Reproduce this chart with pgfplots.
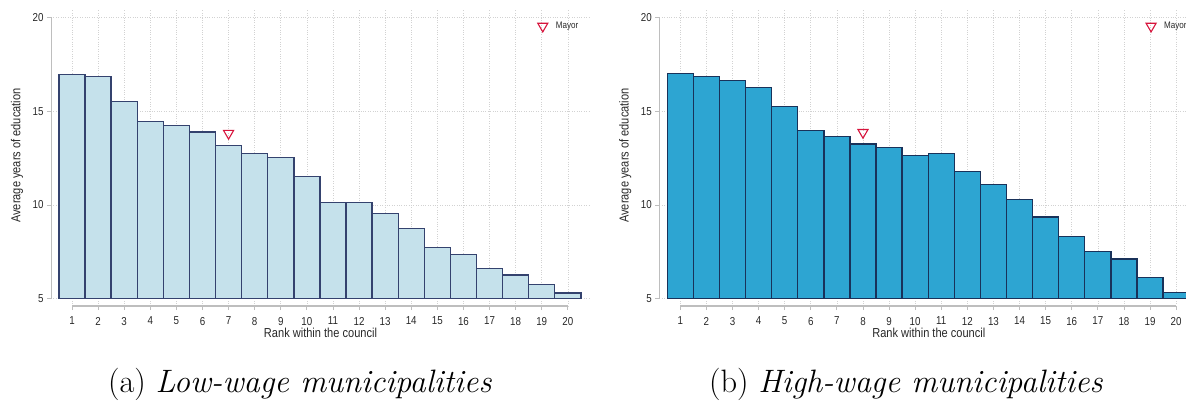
\documentclass[border=0pt]{standalone}
\usepackage{pgfplots}
\pgfplotsset{compat=1.18}
\usepackage{pgfplotstable}
\usepackage{fontspec}
\newfontfamily\chartfont[FakeStretch=0.85]{Liberation Sans}
\definecolor{lowfill}{RGB}{197,225,235}
\definecolor{lowedge}{RGB}{52,66,110}
\definecolor{highfill}{RGB}{45,165,210}
\definecolor{highedge}{RGB}{25,50,90}
\definecolor{mayorred}{RGB}{215,20,60}
\definecolor{gridc}{RGB}{210,210,210}
\definecolor{axc}{RGB}{190,190,190}
\definecolor{txt}{RGB}{40,40,40}

\pgfplotstableread{
r v
1 16.95
2 16.86
3 15.53
4 14.46
5 14.23
6 13.89
7 13.18
8 12.75
9 12.52
10 11.51
11 10.14
12 10.14
13 9.55
14 8.73
15 7.72
16 7.35
17 6.62
18 6.26
19 5.77
20 5.30
}\lowtab

\pgfplotstableread{
r v
1 17.00
2 16.86
3 16.63
4 16.27
5 15.26
6 13.98
7 13.64
8 13.25
9 13.07
10 12.63
11 12.73
12 11.77
13 11.10
14 10.28
15 9.36
16 8.33
17 7.53
18 7.12
19 6.14
20 5.32
}\hightab

\pgfplotsset{
  panel/.style={
    scale only axis, width=539pt, height=296pt,
    anchor=south west,
    xmin=0.195, xmax=20.85, ymin=-0.39, ymax=15.4,
    xtick={1,...,20}, ytick={0,5,10,15}, yticklabels={5,10,15,20},
    xtick pos=bottom, ytick pos=left,
    axis line style={draw=none},
    tick align=outside, major tick length=4pt,
    tick style={axc, line width=0.8pt},
    grid=major, grid style={gridc, dotted, line width=0.6pt},
    clip=false,
    /pgf/number format/assume math mode=true,
    ticklabel style={font=\chartfont\fontsize{11.5}{13}\selectfont, text=txt},
    xticklabel style={yshift=-3.5pt},
    label style={font=\chartfont\fontsize{13}{15}\selectfont, text=txt},
    xlabel={Rank within the council},
    ylabel={Average years of education},
    x label style={at={(axis description cs:0.5,-0.091)}, anchor=center},
    y label style={at={(axis description cs:-0.063,0.508)}, anchor=center},
    legend style={at={(axis cs:18.84,14.54)}, anchor=west, draw=none, fill=none,
      font=\chartfont\fontsize{9.5}{10}\selectfont, inner sep=0pt, text=txt,
      column sep=6pt},
    legend cell align=left,
  },
  mayor/.style={only marks, mark=triangle, mark size=5.8pt,
    mark options={rotate=180, draw=mayorred, fill=none, line width=1.1pt},
    legend image code/.code={\draw[##1] plot coordinates {(0pt,0pt)};}},
}

\begin{document}
\begin{tikzpicture}
\path[use as bounding box] (0,0) rectangle (1186pt,407pt);

\begin{axis}[panel, at={(51pt,101pt)}]
\addplot[ybar, bar width=1, fill=lowfill, draw=lowedge, line width=1.4pt, forget plot]
  table[x=r, y expr=\thisrow{v}-5] {\lowtab};
\addplot[mayor] coordinates {(7,8.82)};
\addlegendentry{Mayor}
\draw[axc, line width=0.8pt] (axis cs:0.195,0) -- (axis cs:0.195,15);
\draw[axc, line width=2pt] (axis cs:1,-0.39) -- (axis cs:20,-0.39);
\end{axis}

\begin{axis}[panel, at={(659.3pt,101pt)}]
\addplot[ybar, bar width=1, fill=highfill, draw=highedge, line width=1.4pt, forget plot]
  table[x=r, y expr=\thisrow{v}-5] {\hightab};
\addplot[mayor] coordinates {(8,8.87)};
\addlegendentry{Mayor}
\draw[axc, line width=0.8pt] (axis cs:0.195,0) -- (axis cs:0.195,15);
\draw[axc, line width=2pt] (axis cs:1,-0.39) -- (axis cs:20,-0.39);
\end{axis}

\node[anchor=base, font=\fontsize{32.4}{38}\selectfont] at (300pt,14.5pt) {(a) \textit{Low-wage municipalities}};
\node[anchor=base, font=\fontsize{32.4}{38}\selectfont] at (906pt,14.5pt) {(b) \textit{High-wage municipalities}};
\end{tikzpicture}
\end{document}
